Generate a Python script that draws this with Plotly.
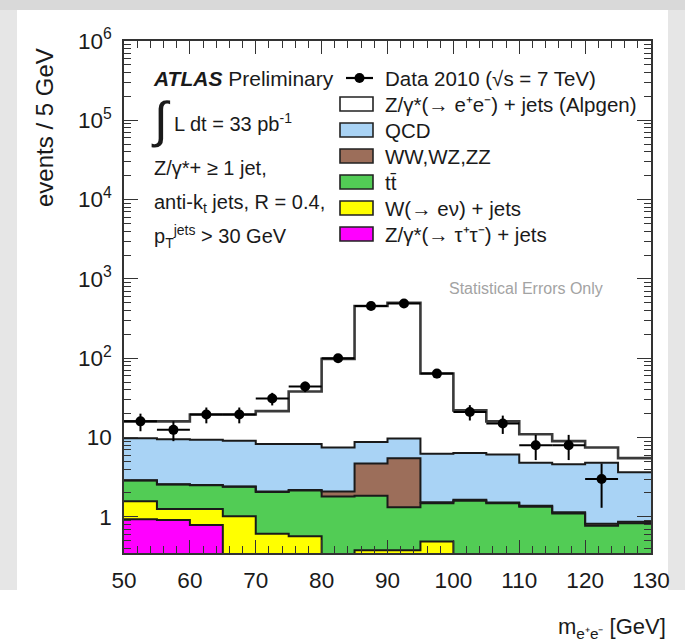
import numpy as np
import plotly.graph_objects as go

# ---- binning: m_ee in 5 GeV bins from 50 to 130 GeV ----
bin_edges = [50, 55, 60, 65, 70, 75, 80, 85, 90, 95, 100, 105, 110, 115, 120, 125, 130]

# ---- observed data (events / 5 GeV) and statistical errors ----
data_centers = [52.5, 57.5, 62.5, 67.5, 72.5, 77.5, 82.5, 87.5, 92.5, 97.5, 102.5, 107.5, 112.5, 117.5, 122.5]
data_counts = [16, 12.5, 19.5, 19.5, 31, 44, 100, 455, 490, 64, 21, 15, 8, 8, 3]
data_errors = [4.0, 3.5, 4.4, 4.4, 5.6, 6.6, 10, 21, 22, 8.0, 4.6, 3.9, 2.8, 2.8, 1.7]
data_xerr = [2.5] * 15

# ---- MC predictions per process (events / 5 GeV) ----
ztautau = [0.93, 0.91, 0.79, 0.20, 0.12, 0.08, 0.05, 0.05, 0.05, 0.04, 0.03, 0.02, 0.02, 0.02, 0.01, 0.01]
wjets = [0.64, 0.35, 0.47, 0.82, 0.49, 0.49, 0.10, 0.33, 0.33, 0.45, 0.05, 0.05, 0.04, 0.04, 0.04, 0.03]
ttbar = [1.30, 1.30, 1.24, 1.38, 1.45, 1.58, 1.66, 1.46, 0.94, 0.99, 1.52, 1.41, 1.28, 1.04, 0.72, 0.79]
diboson = [0.02, 0.02, 0.02, 0.02, 0.03, 0.03, 0.27, 2.86, 4.18, 0.05, 0.04, 0.04, 0.04, 0.04, 0.05, 0.04]
qcd = [6.91, 6.92, 6.88, 6.68, 6.21, 6.12, 5.42, 4.10, 4.20, 4.72, 4.76, 4.58, 3.42, 3.46, 3.98, 2.78]
zee = [6.2, 6.5, 10.1, 10.4, 13.2, 29.7, 90.5, 446, 490, 57.8, 15.6, 9.9, 6.2, 4.4, 2.7, 1.85]

processes = [
    ("Z/γ*(→ τ⁺τ⁻) + jets", ztautau, "#ff00ff"),
    ("W(→ eν) + jets", wjets, "#ffff00"),
    ("tt̄", ttbar, "#52cc55"),
    ("WW,WZ,ZZ", diboson, "#9c6e5a"),
    ("QCD", qcd, "#a9d3f5"),
    ("Z/γ*(→ e⁺e⁻) + jets (Alpgen)", zee, "#ffffff"),
]

edges = np.array(bin_edges, dtype=float)
centers = 0.5 * (edges[:-1] + edges[1:])

# frame geometry in pixels
W, H = 685, 643
L, R, T, B = 124, 651, 41, 553
YMIN, YMAX = 0.35, 1e6


def xp(px):
    return (px - L) / (R - L)


def yp(py):
    return (B - py) / (B - T)


fig = go.Figure()

# stacked filled histograms
for name, vals, col in processes:
    fig.add_trace(go.Bar(x=centers, y=vals, width=5, marker=dict(color=col, line=dict(width=0)),
                         name=name, showlegend=False, hoverinfo="skip"))

# step outlines of the cumulative stack
cum = np.zeros(len(centers))
for i, (name, vals, col) in enumerate(processes):
    cum = cum + np.array(vals)
    is_total = i == len(processes) - 1
    fig.add_trace(go.Scatter(
        x=edges, y=np.append(cum, cum[-1]), mode="lines", line_shape="hv",
        line=dict(color="#3a3a3a" if is_total else "#1a1a1a", width=2.6 if is_total else 2),
        showlegend=False, hoverinfo="skip"))

# data points
fig.add_trace(go.Scatter(
    x=data_centers, y=data_counts, mode="markers",
    marker=dict(color="black", size=10),
    error_y=dict(type="data", array=data_errors, color="black", thickness=2, width=0),
    error_x=dict(type="data", array=data_xerr, color="black", thickness=2, width=0),
    showlegend=False, hoverinfo="skip"))

font_family = "Liberation Sans, Arial, Helvetica, sans-serif"

minor_y = [k * 10.0 ** d for d in range(-1, 6) for k in range(2, 10) if YMIN <= k * 10.0 ** d <= YMAX]

fig.update_layout(
    width=W, height=H, autosize=False,
    margin=dict(l=L, r=W - R, t=T, b=H - B, pad=0),
    paper_bgcolor="white", plot_bgcolor="white",
    barmode="stack", bargap=0,
    font=dict(family=font_family, color="#1a1a1a"),
    xaxis=dict(
        range=[50, 130], showgrid=False, zeroline=False,
        showline=True, linecolor="#333", linewidth=1.5, mirror="allticks",
        ticks="inside", ticklen=13, tickwidth=1.2, tickcolor="#333",
        tickmode="array", tickvals=[50, 60, 70, 80, 90, 100, 110, 120, 130],
        ticktext=["50", "60", "70", "80", "90", "100", "110", "120", "130"],
        tickfont=dict(size=22.5, color="#1a1a1a"), ticklabelstandoff=6,
        minor=dict(ticks="inside", ticklen=7, tickcolor="#333", tickwidth=1, dtick=2, showgrid=False),
    ),
    yaxis=dict(
        type="log", range=[np.log10(YMIN), np.log10(YMAX)], showgrid=False, zeroline=False,
        showline=True, linecolor="#333", linewidth=1.5, mirror="allticks",
        ticks="inside", ticklen=14, tickwidth=1.2, tickcolor="#333",
        tickmode="array", tickvals=[1, 10, 100, 1e3, 1e4, 1e5, 1e6],
        ticktext=["1", "10", "10<sup>2</sup>", "10<sup>3</sup>", "10<sup>4</sup>", "10<sup>5</sup>", "10<sup>6</sup>"],
        tickfont=dict(size=22.5, color="#1a1a1a"), ticklabelstandoff=6,
        minor=dict(ticks="inside", ticklen=7, tickcolor="#333", tickwidth=1,
                   tickmode="array", tickvals=minor_y, showgrid=False),
    ),
)

shapes = []
# grey surround of the white panel
for (x0, y0, x1, y1, c) in [(0, 0, W, 10, "#d9d9d9"), (0, 10, 17, 590, "#e6e6e6"), (668, 10, W, 590, "#e6e6e6")]:
    shapes.append(dict(type="rect", xref="paper", yref="paper", x0=xp(x0), x1=xp(x1), y0=yp(y1), y1=yp(y0),
                       fillcolor=c, line=dict(width=0), layer="below"))

annotations = []


def text(px, py, s, size=17, anchor="left", color="#1a1a1a", yanchor="middle", angle=0):
    annotations.append(dict(x=xp(px), y=yp(py), xref="paper", yref="paper", text=s, showarrow=False,
                            xanchor=anchor, yanchor=yanchor, textangle=angle,
                            font=dict(size=size, color=color, family=font_family)))


LEG_FONT = 20.5
# legend: data row
row_y = [78, 104, 130, 156, 182, 208, 234]
shapes.append(dict(type="line", xref="paper", yref="paper", x0=xp(346), x1=xp(373), y0=yp(row_y[0]), y1=yp(row_y[0]),
                   line=dict(color="black", width=2.2)))
shapes.append(dict(type="circle", xref="paper", yref="paper", x0=xp(354.5), x1=xp(364.5),
                   y0=yp(row_y[0] + 5), y1=yp(row_y[0] - 5), fillcolor="black", line=dict(color="black", width=0)))
text(383, row_y[0], "Data 2010 (√s = 7 TeV)", size=LEG_FONT)

legend_order = [5, 4, 3, 2, 1, 0]
for row, idx in zip(row_y[1:], legend_order):
    name, _, col = processes[idx]
    shapes.append(dict(type="rect", xref="paper", yref="paper", x0=xp(340), x1=xp(373),
                       y0=yp(row + 7), y1=yp(row - 7), fillcolor=col, line=dict(color="#222", width=1.6)))
    text(383, row, name, size=LEG_FONT)

# left block of labels
text(151, 78, "<b><i>ATLAS</i></b> Preliminary", size=21)
text(149, 120, "∫", size=50)
text(172, 122, "L dt = 33 pb<sup>-1</sup>", size=20)
text(152, 168, "Z/γ*+ ≥ 1 jet,", size=20)
text(152, 203, "anti-k<sub>t</sub> jets, R = 0.4,", size=20)
text(152, 236, "p<sub>T</sub><sup>jets</sup> > 30 GeV", size=20)

text(526, 288, "Statistical Errors Only", size=16, anchor="center", color="#a3a3a3")

# axis titles
text(44, 128, "events / 5 GeV", size=24, anchor="center", angle=-90)
text(668, 628, "m<sub>e⁺e⁻</sub> [GeV]", size=22, anchor="right")

fig.update_layout(shapes=shapes, annotations=annotations)

fig.write_html("out.html")
